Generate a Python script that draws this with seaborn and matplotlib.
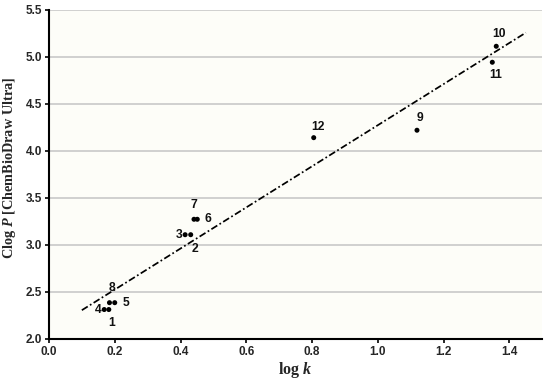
import numpy as np
import pandas as pd
import seaborn as sns
import matplotlib.pyplot as plt

# compound numbers, log k (x) and Clog P (y)
labels = ["1", "2", "3", "4", "5", "6", "7", "8", "9", "10", "11", "12"]
log_k = [0.182, 0.431, 0.414, 0.168, 0.200, 0.451, 0.441, 0.184, 1.119, 1.360, 1.348, 0.805]
clogp = [2.31, 3.106, 3.106, 2.31, 2.383, 3.27, 3.27, 2.383, 4.217, 5.11, 4.94, 4.138]

# label offsets in points (dx, dy, ha)
offsets = {
    "1": (2, -10, "center"), "2": (3, -10.5, "center"), "3": (-2, 0, "right"),
    "4": (-2, 0, "right"), "5": (5.5, 0, "left"), "6": (5.5, 0, "left"),
    "7": (0, 10.5, "center"), "8": (1.5, 10.5, "center"), "9": (2, 9, "center"),
    "10": (2, 8.5, "center"), "11": (2.5, -9.5, "center"), "12": (3, 8, "center"),
}

df = pd.DataFrame({"label": labels, "x": log_k, "y": clogp})

slope, icpt = np.polyfit(df["x"], df["y"], 1)
fit = pd.DataFrame({"x": [0.1, 1.45]})
fit["y"] = icpt + slope * fit["x"]

sns.set_style("ticks")
plt.rcParams["font.family"] = ["Liberation Sans", "DejaVu Sans"]
plt.rcParams["mathtext.fontset"] = "custom"
plt.rcParams["mathtext.rm"] = "Liberation Serif:bold"
plt.rcParams["mathtext.it"] = "Liberation Serif:italic:bold"

fig = plt.figure(figsize=(5.5, 3.84), dpi=100)
ax = fig.add_axes([0.089, 0.118, 0.897, 0.857])
ax.set_facecolor("#fdfdf8")
fig.patch.set_facecolor("white")

for yv in np.arange(2.5, 5.51, 0.5):
    ax.axhline(yv, color="#c4c4c4", lw=1.1, zorder=0)

sns.lineplot(data=fit, x="x", y="y", ax=ax, color="black", lw=1.25,
             linestyle=(0, (4, 1.5, 1, 1.5)), zorder=2)
sns.scatterplot(data=df, x="x", y="y", ax=ax, color="black", s=13,
                edgecolor="none", zorder=3)

for _, r in df.iterrows():
    dx, dy, ha = offsets[r["label"]]
    ax.annotate(r["label"], (r["x"], r["y"]), xytext=(dx, dy),
                textcoords="offset points", ha=ha, va="center",
                fontsize=8.7, fontweight="bold", color="#111111")

ax.set_xlim(0, 1.5)
ax.set_ylim(2.0, 5.5)
ax.set_xticks(np.arange(0, 1.41, 0.2))
ax.set_yticks(np.arange(2.0, 5.51, 0.5))
ax.xaxis.set_major_formatter(plt.FormatStrFormatter("%.1f"))
ax.yaxis.set_major_formatter(plt.FormatStrFormatter("%.1f"))
ax.tick_params(labelsize=8.5, width=1.2, length=3, color="black", pad=2)
for t in ax.get_xticklabels() + ax.get_yticklabels():
    t.set_fontweight("bold")

sns.despine(ax=ax)
for s in ["left", "bottom"]:
    ax.spines[s].set_linewidth(1.5)
    ax.spines[s].set_color("black")

ax.set_xlabel(r"$\mathrm{log}\ \mathit{k}$", fontsize=11.5, labelpad=2)
ax.set_ylabel(r"$\mathrm{Clog}\ \mathit{P}\ \mathrm{[ChemBioDraw\ Ultra]}$", fontsize=10.3)
ax.yaxis.set_label_coords(-0.062, 0.52)

fig.savefig("out.png", dpi=100)
